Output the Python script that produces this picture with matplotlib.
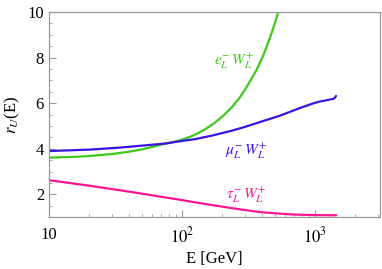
import matplotlib
matplotlib.use("Agg")
import matplotlib.pyplot as plt
from matplotlib.ticker import FixedLocator, FuncFormatter, MultipleLocator, LogLocator, NullFormatter

plt.rcParams['font.family'] = ['Liberation Serif', 'DejaVu Serif']
plt.rcParams['mathtext.fontset'] = 'stix'

# data
E_e = [10, 15, 20, 30, 40, 50, 60, 75, 90, 100, 115, 130, 150, 175, 205, 240, 273, 310, 364, 410, 459, 500, 540, 560]
r_e = [3.61, 3.64, 3.68, 3.77, 3.87, 3.97, 4.08, 4.22, 4.32, 4.40, 4.52, 4.66, 4.86, 5.12, 5.45, 5.85, 6.25, 6.75, 7.45, 8.10, 8.85, 9.50, 10.15, 10.5]

E_mu = [10, 20, 34, 53, 75, 97, 125, 172, 240, 306, 400, 546, 650, 800, 971, 1100, 1200, 1300, 1380, 1420, 1445]
r_mu = [3.90, 3.96, 4.05, 4.15, 4.23, 4.33, 4.42, 4.59, 4.80, 4.98, 5.20, 5.45, 5.62, 5.82, 5.99, 6.08, 6.12, 6.16, 6.19, 6.25, 6.32]

E_tau = [10, 15, 20, 34, 50, 70, 97, 125, 172, 240, 306, 400, 546, 700, 971, 1200, 1450]
r_tau = [2.62, 2.48, 2.38, 2.18, 2.03, 1.89, 1.76, 1.65, 1.52, 1.39, 1.30, 1.21, 1.15, 1.11, 1.09, 1.08, 1.08]

labels = [r'$e_L^{-}\,W_L^{+}$', r'$\mu_L^{-}\,W_L^{+}$', r'$\tau_L^{-}\,W_L^{+}$']
label_pos = [(248, 7.82), (303, 3.87), (303, 1.97)]
colors = ['#3ec81a', '#3a14e6', '#ff1493']

fig = plt.figure(figsize=(3.82, 2.69), dpi=100)
ax = fig.add_axes([0.128, 0.193, 0.867, 0.762])

for (E, r), c in zip([(E_e, r_e), (E_mu, r_mu), (E_tau, r_tau)], colors):
    ax.plot(E, r, color=c, lw=1.6, solid_capstyle='round', solid_joinstyle='round')

for lab, (x, y), c in zip(labels, label_pos, colors):
    ax.text(x, y, lab, color=c, fontsize=11, ha='center', va='center')

ax.set_xscale('log')
ax.set_xlim(10, 3100)
ax.set_ylim(1, 10)

ax.xaxis.set_major_locator(FixedLocator([10, 100, 1000]))
ax.xaxis.set_major_formatter(FuncFormatter(lambda v, p: {10: '10', 100: r'$10^2$', 1000: r'$10^3$'}.get(int(round(v)), '')))
ax.xaxis.set_minor_locator(LogLocator(base=10, subs=range(2, 10)))
ax.xaxis.set_minor_formatter(NullFormatter())
ax.yaxis.set_major_locator(FixedLocator([2, 4, 6, 8, 10]))
ax.yaxis.set_minor_locator(MultipleLocator(0.5))

ax.tick_params(which='both', direction='in', colors='#999999', labelcolor='black', labelsize=12,
               top=False, right=False)
ax.tick_params(which='major', length=5, width=0.8)
ax.tick_params(which='minor', length=2.5, width=0.6)
ax.tick_params(axis='x', pad=7)
for s in ax.spines.values():
    s.set_color('#999999')
    s.set_linewidth(0.9)

ax.set_xlabel('E [GeV]', fontsize=12, labelpad=3)
ax.set_ylabel(r'$r_U$(E)', fontsize=12, labelpad=4)

fig.savefig('out.png', dpi=100)
